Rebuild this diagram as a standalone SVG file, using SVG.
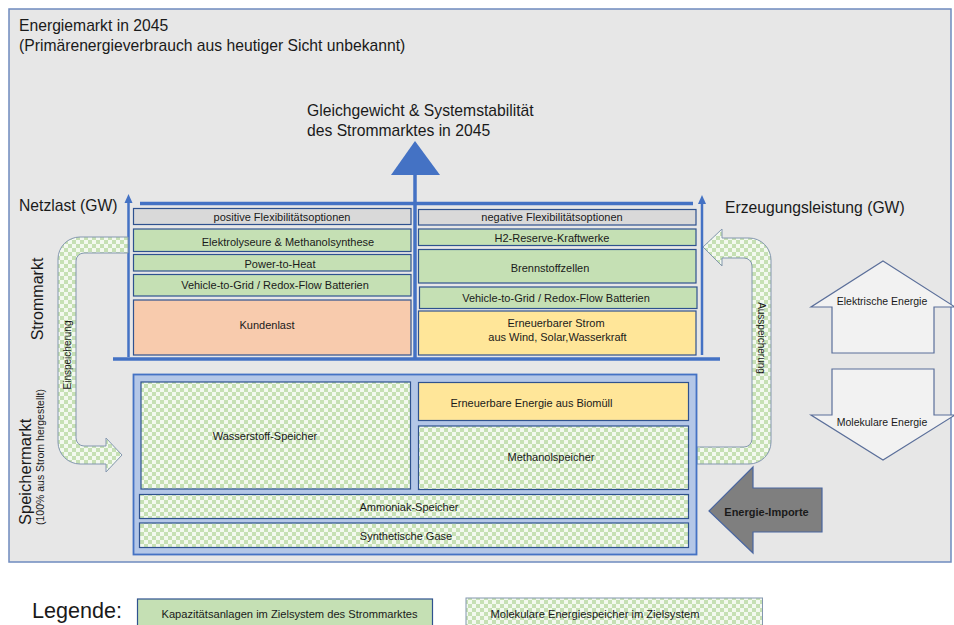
<svg xmlns="http://www.w3.org/2000/svg" width="954" height="625" viewBox="0 0 954 625">
<defs>
<pattern id="chk" width="8" height="8" patternUnits="userSpaceOnUse">
<rect width="8" height="8" fill="#f3f9ef"/>
<rect width="4" height="4" fill="#c6e0b4"/>
<rect x="4" y="4" width="4" height="4" fill="#c6e0b4"/>
</pattern>
</defs>
<style>
.t{font-family:"Liberation Sans",Arial,sans-serif;fill:#1a1a1a}
.big{font-size:15.7px}
.bx{font-size:11px;text-anchor:middle}
.box{stroke:#2f528f;stroke-width:1.2}
.gray{fill:#d9d9d9}
.green{fill:#c5e0b4}
.orange{fill:#f8cbad}
.yellow{fill:#ffe699}
.pat{fill:url(#chk)}
.ax{stroke:#4472c4;stroke-width:3.5;fill:none}
.axt{stroke:#4472c4;stroke-width:2.5;fill:none}
.blk{fill:#f2f2f2;stroke:#5b6f9a;stroke-width:1.2}
</style>
<rect x="0" y="0" width="954" height="625" fill="#ffffff"/>
<rect id="frame" x="9" y="9" width="942" height="553" fill="#e7e7e7" stroke="#6f8bbf" stroke-width="1.5"/>
<g id="titles">
<text class="t big" x="19" y="31">Energiemarkt in 2045</text>
<text class="t big" x="19" y="51">(Primärenergieverbrauch aus heutiger Sicht unbekannt)</text>
<text class="t big" x="307" y="116">Gleichgewicht &amp; Systemstabilität</text>
<text class="t big" x="307" y="136">des Strommarktes in 2045</text>
<text class="t big" x="19" y="211">Netzlast (GW)</text>
<text class="t big" x="725" y="213">Erzeugungsleistung (GW)</text>
<text class="t" font-size="16" text-anchor="middle" transform="translate(43,299) rotate(-90)">Strommarkt</text>
<text class="t" font-size="16.5" text-anchor="start" transform="translate(31,525) rotate(-90)">Speichermarkt</text>
<text class="t" font-size="10.5" text-anchor="start" transform="translate(44,525) rotate(-90)">(100% aus Strom hergestellt)</text>
</g>
<g id="connectors">
<polygon points="415,141 391,175 440,175" fill="#4472c4"/>
<line class="ax" x1="415" y1="174" x2="415" y2="358"/>
<line class="ax" x1="140" y1="203.5" x2="693" y2="203.5"/>
<line class="ax" x1="113" y1="359" x2="720" y2="359"/>
<line class="axt" x1="128.5" y1="357" x2="128.5" y2="202"/>
<polygon points="128.5,194 124.5,203 132.5,203" fill="#4472c4"/>
<line class="axt" x1="702" y1="355" x2="702" y2="203"/>
<polygon points="702,195 698,204 706,204" fill="#4472c4"/>
</g>
<g id="einspeicherung">
<path d="M128,237 L80,237 A22,22 0 0 0 58,259 L58,442 A22,22 0 0 0 80,464 L106,464 L106,472 L122,455 L106,438 L106,446 L84,446 A8,8 0 0 1 76,438 L76,261 A8,8 0 0 1 84,253 L128,253 Z" class="pat" stroke="#8497b0" stroke-width="1"/>
<text class="t" font-size="10" text-anchor="middle" transform="translate(71,355) rotate(-90)">Einspeicherung</text>
</g>
<g id="ausspeicherung">
<path d="M703,247 L722,229 L722,238 L749,238 A22,22 0 0 1 771,260 L771,442 A22,22 0 0 1 749,464 L697,464 L697,447 L744,447 A8,8 0 0 0 752,439 L752,266 A8,8 0 0 0 744,258 L722,258 L722,266 Z" class="pat" stroke="#8497b0" stroke-width="1"/>
<text class="t" font-size="10" text-anchor="middle" transform="translate(758,338) rotate(90)">Ausspeicherung</text>
</g>
<g id="n-pos"><rect class="box gray" x="133.5" y="208.5" width="277.5" height="16"/><text class="t bx" x="282" y="221">positive Flexibilitätsoptionen</text></g>
<g id="n-elektro"><rect class="box green" x="133.5" y="229" width="277.5" height="22.5"/><text class="t bx" x="288" y="246">Elektrolyseure &amp; Methanolsynthese</text></g>
<g id="n-p2h"><rect class="box green" x="133.5" y="254.5" width="277.5" height="16.5"/><text class="t bx" x="280" y="267.5">Power-to-Heat</text></g>
<g id="n-v2g-l"><rect class="box green" x="133.5" y="274.5" width="277.5" height="21.5"/><text class="t bx" x="275" y="289">Vehicle-to-Grid / Redox-Flow Batterien</text></g>
<g id="n-kunden"><rect class="box orange" x="133.5" y="300" width="277.5" height="55"/><text class="t bx" x="267" y="329">Kundenlast</text></g>
<g id="n-neg"><rect class="box gray" x="418.5" y="209.5" width="277.5" height="15.5"/><text class="t bx" x="552" y="221">negative Flexibilitätsoptionen</text></g>
<g id="n-h2"><rect class="box green" x="418.5" y="229" width="277.5" height="16.5"/><text class="t bx" x="552" y="241.5">H2-Reserve-Kraftwerke</text></g>
<g id="n-brenn"><rect class="box green" x="418.5" y="249.5" width="277.5" height="33.5"/><text class="t bx" x="550" y="271.5">Brennstoffzellen</text></g>
<g id="n-v2g-r"><rect class="box green" x="419.5" y="287" width="277.5" height="21.5"/><text class="t bx" x="556" y="301.5">Vehicle-to-Grid / Redox-Flow Batterien</text></g>
<g id="n-erneuer"><rect class="box yellow" x="418.5" y="311" width="277.5" height="44"/><text class="t bx" x="556" y="327">Erneuerbarer Strom</text><text class="t bx" x="557.5" y="340.5">aus Wind, Solar,Wasserkraft</text></g>
<g id="n-speicher"><rect x="133.5" y="374.5" width="563" height="180" fill="#b4c7e7" stroke="#4472c4" stroke-width="1.8"/></g>
<g id="n-wasserstoff"><rect class="box pat" x="141" y="382" width="269.5" height="107"/><text class="t bx" x="265" y="439.5">Wasserstoff-Speicher</text></g>
<g id="n-biomuell"><rect class="box yellow" x="418.5" y="382.5" width="270" height="38"/><text class="t bx" x="531.5" y="406.5">Erneuerbare Energie aus Biomüll</text></g>
<g id="n-methanol"><rect class="box pat" x="418.5" y="426" width="270" height="63.5"/><text class="t bx" x="551" y="460.5">Methanolspeicher</text></g>
<g id="n-ammoniak"><rect class="box pat" x="139.5" y="494.5" width="549" height="24"/><text class="t bx" x="409" y="510.5">Ammoniak-Speicher</text></g>
<g id="n-synth"><rect class="box pat" x="139.5" y="523" width="549" height="24.5"/><text class="t bx" x="406" y="539.5">Synthetische Gase</text></g>
<g id="n-elektrisch"><polygon class="blk" points="883,261 955,307 934,307 934,353 832,353 832,307 811,307"/><text class="t" font-size="10.5" text-anchor="middle" x="882" y="304.5">Elektrische Energie</text></g>
<g id="n-molekular"><polygon class="blk" points="832,369 934,369 934,415 955,415 883,460 811,415 832,415"/><text class="t" font-size="10.5" text-anchor="middle" x="882" y="425.5">Molekulare Energie</text></g>
<g id="n-importe"><polygon points="709,511 753,467 753,488 822,488 822,532 753,532 753,553" fill="#7f7f7f" stroke="#4a66a0" stroke-width="1.2"/><text class="t" font-size="11" font-weight="bold" text-anchor="middle" x="766.5" y="515.5">Energie-Importe</text></g>
<g id="legend">
<text class="t" font-size="21.5" x="32" y="618" textLength="90" lengthAdjust="spacingAndGlyphs">Legende:</text>
<g id="leg-green"><rect class="box green" x="137.5" y="599" width="295" height="30"/><text class="t" font-size="11.5" x="161.5" y="618" textLength="256" lengthAdjust="spacingAndGlyphs">Kapazitätsanlagen im Zielsystem des Strommarktes</text></g>
<g id="leg-pat"><rect class="pat" x="466" y="598" width="296.5" height="31" stroke="#8497b0" stroke-width="1"/><text class="t" font-size="11" x="490.5" y="617.5" textLength="209" lengthAdjust="spacingAndGlyphs">Molekulare Energiespeicher im Zielsystem</text></g>
</g>
</svg>
